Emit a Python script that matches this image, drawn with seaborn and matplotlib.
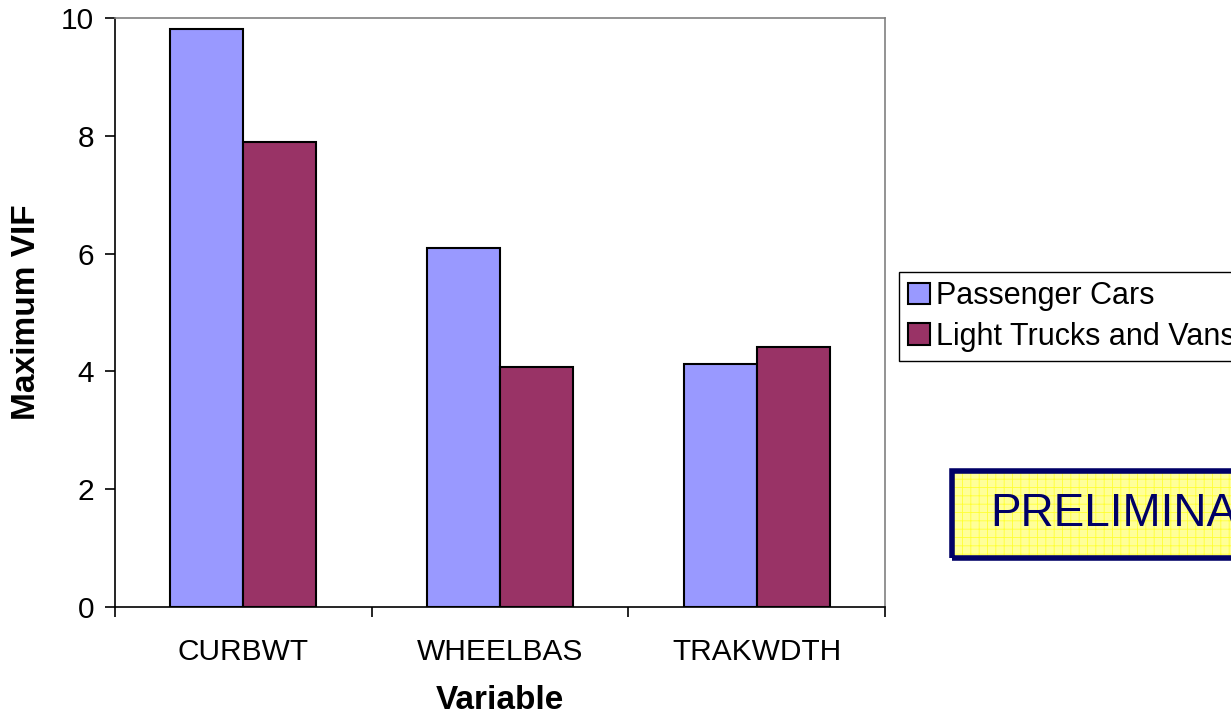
import numpy as np
import pandas as pd
import matplotlib
matplotlib.use('Agg')
import matplotlib.pyplot as plt
import seaborn as sns
from matplotlib.patches import Rectangle

variables = ['CURBWT', 'WHEELBAS', 'TRAKWDTH']
passenger_cars = [9.81, 6.09, 4.12]
light_trucks = [7.89, 4.07, 4.41]
series_names = ['Passenger Cars', 'Light Trucks and Vans']

df = pd.DataFrame({
    'Variable': variables * 2,
    'VIF': passenger_cars + light_trucks,
    'Group': [series_names[0]] * 3 + [series_names[1]] * 3,
})

sns.set_style('white')
plt.rcParams['font.family'] = ['Liberation Sans', 'DejaVu Sans']
plt.rcParams['text.color'] = 'black'
plt.rcParams['axes.labelcolor'] = 'black'
plt.rcParams['xtick.color'] = 'black'
plt.rcParams['ytick.color'] = 'black'
plt.rcParams['hatch.linewidth'] = 0.6

fig = plt.figure(figsize=(12.31, 7.17), dpi=100)
ax = fig.add_axes([115 / 1231, 110 / 717, 770 / 1231, 589 / 717])

sns.barplot(data=df, x='Variable', y='VIF', hue='Group', order=variables,
            hue_order=series_names, palette=['#9999FF', '#993366'],
            width=0.57, gap=0, edgecolor='black', linewidth=1.5, ax=ax,
            saturation=1)

ax.set_xlim(-0.5, 2.5)
ax.set_ylim(0, 10)
ax.set_yticks(np.arange(0, 11, 2))
ax.set_xticks([-0.5, 0.5, 1.5, 2.5], minor=True)

for s in ['left', 'bottom']:
    ax.spines[s].set_color('black')
    ax.spines[s].set_linewidth(1.2)
for s in ['top', 'right']:
    ax.spines[s].set_color('#808080')
    ax.spines[s].set_linewidth(1.2)

ax.tick_params(axis='y', which='major', direction='out', length=7, width=1.2,
               color='black', labelsize=21.5, pad=8, left=True)
ax.tick_params(axis='x', which='major', length=0, labelsize=21.5, pad=22)
ax.tick_params(axis='x', which='minor', direction='out', length=7, width=1.2,
               color='black', bottom=True)

ax.set_xlabel('Variable', fontsize=24, fontweight='bold', labelpad=14)
ax.set_ylabel('Maximum VIF', fontsize=24, fontweight='bold', labelpad=14)

ax.legend_.remove()
handles = [Rectangle((0, 0), 1, 1, facecolor=c, edgecolor='black', linewidth=1.5)
           for c in ['#9999FF', '#993366']]
fig.legend(handles, series_names, loc='upper left',
           bbox_to_anchor=(899 / 1231, 1 - 272 / 717), fontsize=22,
           frameon=True, fancybox=False, edgecolor='black', framealpha=1,
           handlelength=0.7, handleheight=0.7, handletextpad=0.2,
           borderpad=0.3, labelspacing=0.35, borderaxespad=0)

# PRELIMINARY stamp, running off the right edge
x0, y0 = 952 / 1231, 1 - 558 / 717
w, h = 0.4, 87 / 717
fig.patches.append(Rectangle((x0, y0), w, h, transform=fig.transFigure,
                             facecolor='#FFFF99', edgecolor='#FFFF33',
                             hatch='++', linewidth=0, zorder=5))
fig.patches.append(Rectangle((x0, y0), w, h, transform=fig.transFigure,
                             facecolor='none', edgecolor='#000066',
                             linewidth=4, zorder=6))
fig.text(990 / 1231, y0 + h / 2, 'PRELIMINARY', color='#000066', fontsize=33,
         ha='left', va='center', zorder=7)

fig.savefig('out.png', dpi=100)
